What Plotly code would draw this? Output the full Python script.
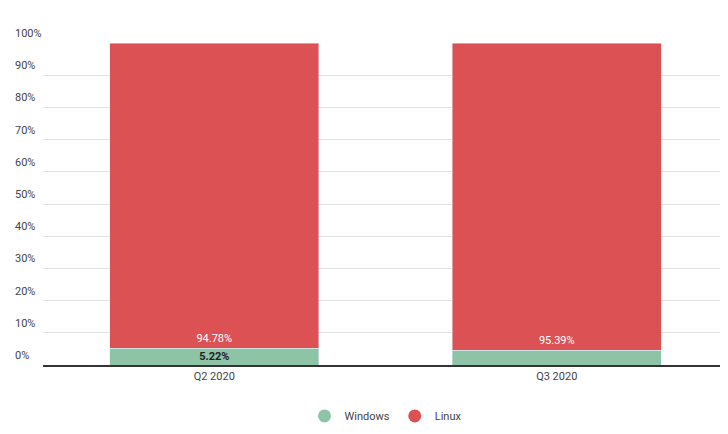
import plotly.graph_objects as go

quarters = ["Q2 2020", "Q3 2020"]
windows = [5.22, 4.61]
linux = [94.78, 95.39]
windows_text = ["<b>5.22%</b>", ""]
linux_text = ["94.78%", "95.39%"]
y_ticks = [0, 10, 20, 30, 40, 50, 60, 70, 80, 90, 100]

fig = go.Figure()

fig.add_trace(go.Bar(
	x=quarters, y=windows, name="Windows", showlegend=False,
	marker_color="#8dc4a5",
	text=windows_text, textposition="inside", insidetextanchor="middle",
	textfont=dict(color="#222222", size=11, family="Roboto"),
))
fig.add_trace(go.Bar(
	x=quarters, y=linux, name="Linux", showlegend=False,
	marker_color="#dc5254",
	text=linux_text, textposition="inside", insidetextanchor="start",
	textfont=dict(color="white", size=11, family="Roboto"),
))

# legend entries with round markers
for name, color in [("Windows", "#8dc4a5"), ("Linux", "#dc5254")]:
	fig.add_trace(go.Scatter(
		x=[None], y=[None], mode="markers", name=name,
		marker=dict(symbol="circle", size=13, color=color),
	))

# y labels sit above the gridlines, left aligned
for v in y_ticks:
	fig.add_annotation(
		x=0, xref="paper", xshift=-30, xanchor="left",
		y=v, yref="y", yanchor="bottom", yshift=1,
		text=f"{v}%", showarrow=False,
		font=dict(size=11, color="#444444", family="Roboto"),
	)

fig.update_layout(
	width=728, height=434,
	barmode="stack", bargap=0.39,
	margin=dict(l=35, r=8, t=35, b=77, autoexpand=False),
	plot_bgcolor="white", paper_bgcolor="white",
	font=dict(family="Roboto", size=11, color="#444444"),
	showlegend=True,
	legend=dict(orientation="h", x=0.5, xanchor="center", y=-0.158, yanchor="middle",
		traceorder="normal", font=dict(size=11, color="#444444")),
	uniformtext=dict(mode="show", minsize=11),
)
fig.update_yaxes(range=[0, 100], tickvals=y_ticks, showticklabels=False,
	gridcolor="#e3e3e3", zeroline=False)
fig.update_xaxes(showline=True, linecolor="#333333", linewidth=1.5,
	tickfont=dict(size=11, color="#444444"))

fig.add_shape(type="line", xref="paper", yref="paper", x0=-0.05, x1=1, y0=-0.217, y1=-0.217,
	line=dict(color="#e3e3e3", width=1))

fig.write_html("out.html")
